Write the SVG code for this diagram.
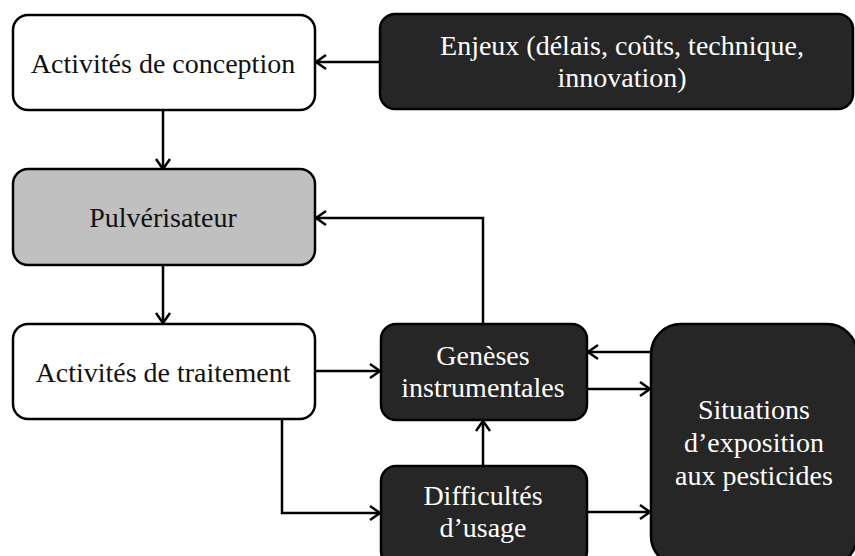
<svg xmlns="http://www.w3.org/2000/svg" width="855" height="556" viewBox="0 0 855 556">
<defs>
<style>
.box{stroke:#000;stroke-width:2.5}
.w{fill:#fff}
.g{fill:#c0c0c0}
.d{fill:#262626}
.t{font-family:"Liberation Serif","Times New Roman",serif;font-size:28px;text-anchor:middle}
.tb{fill:#111}
.tw{fill:#fff}
.c{fill:none;stroke:#000;stroke-width:2.5;marker-end:url(#ah)}
</style>
<marker id="ah" markerUnits="userSpaceOnUse" markerWidth="14" markerHeight="18" refX="11" refY="9" orient="auto">
<path d="M1,2 L11,9 L1,16" fill="none" stroke="#000" stroke-width="2.5" stroke-linejoin="miter"/>
</marker>
</defs>
<rect width="855" height="556" fill="#fff"/>
<g id="connectors">
<path class="c" d="M380,62 L316,62"/>
<path class="c" d="M163,110 L163,169"/>
<path class="c" d="M163,265 L163,323"/>
<path class="c" d="M483,324 L483,218 L316,218"/>
<path class="c" d="M315,371 L380,371"/>
<path class="c" d="M282,419 L282,513 L380,513"/>
<path class="c" d="M483,466 L483,421"/>
<path class="c" d="M651,352 L588,352"/>
<path class="c" d="M587,389 L650,389"/>
<path class="c" d="M587,512 L650,512"/>
</g>
<g id="conception">
<rect class="box w" x="13" y="15" width="302" height="95" rx="15"/>
<text class="t tb" x="163" y="73">Activités de conception</text>
</g>
<g id="enjeux">
<rect class="box d" x="380" y="14" width="473" height="95" rx="15"/>
<text class="t tw" x="622" y="55">Enjeux (délais, coûts, technique,</text>
<text class="t tw" x="622" y="87">innovation)</text>
</g>
<g id="pulverisateur">
<rect class="box g" x="13" y="169" width="302" height="96" rx="15"/>
<text class="t tb" x="163" y="227">Pulvérisateur</text>
</g>
<g id="traitement">
<rect class="box w" x="13" y="324" width="302" height="95" rx="15"/>
<text class="t tb" x="163" y="382">Activités de traitement</text>
</g>
<g id="geneses">
<rect class="box d" x="381" y="324" width="206" height="96" rx="15"/>
<text class="t tw" x="483" y="365">Genèses</text>
<text class="t tw" x="483" y="397">instrumentales</text>
</g>
<g id="difficultes">
<rect class="box d" x="381" y="466" width="206" height="100" rx="15"/>
<text class="t tw" x="483" y="505">Difficultés</text>
<text class="t tw" x="483" y="537">d’usage</text>
</g>
<g id="situations">
<rect class="box d" x="651" y="324" width="206" height="242" rx="30"/>
<text class="t tw" x="754" y="419">Situations</text>
<text class="t tw" x="754" y="452">d’exposition</text>
<text class="t tw" x="754" y="485">aux pesticides</text>
</g>
</svg>
